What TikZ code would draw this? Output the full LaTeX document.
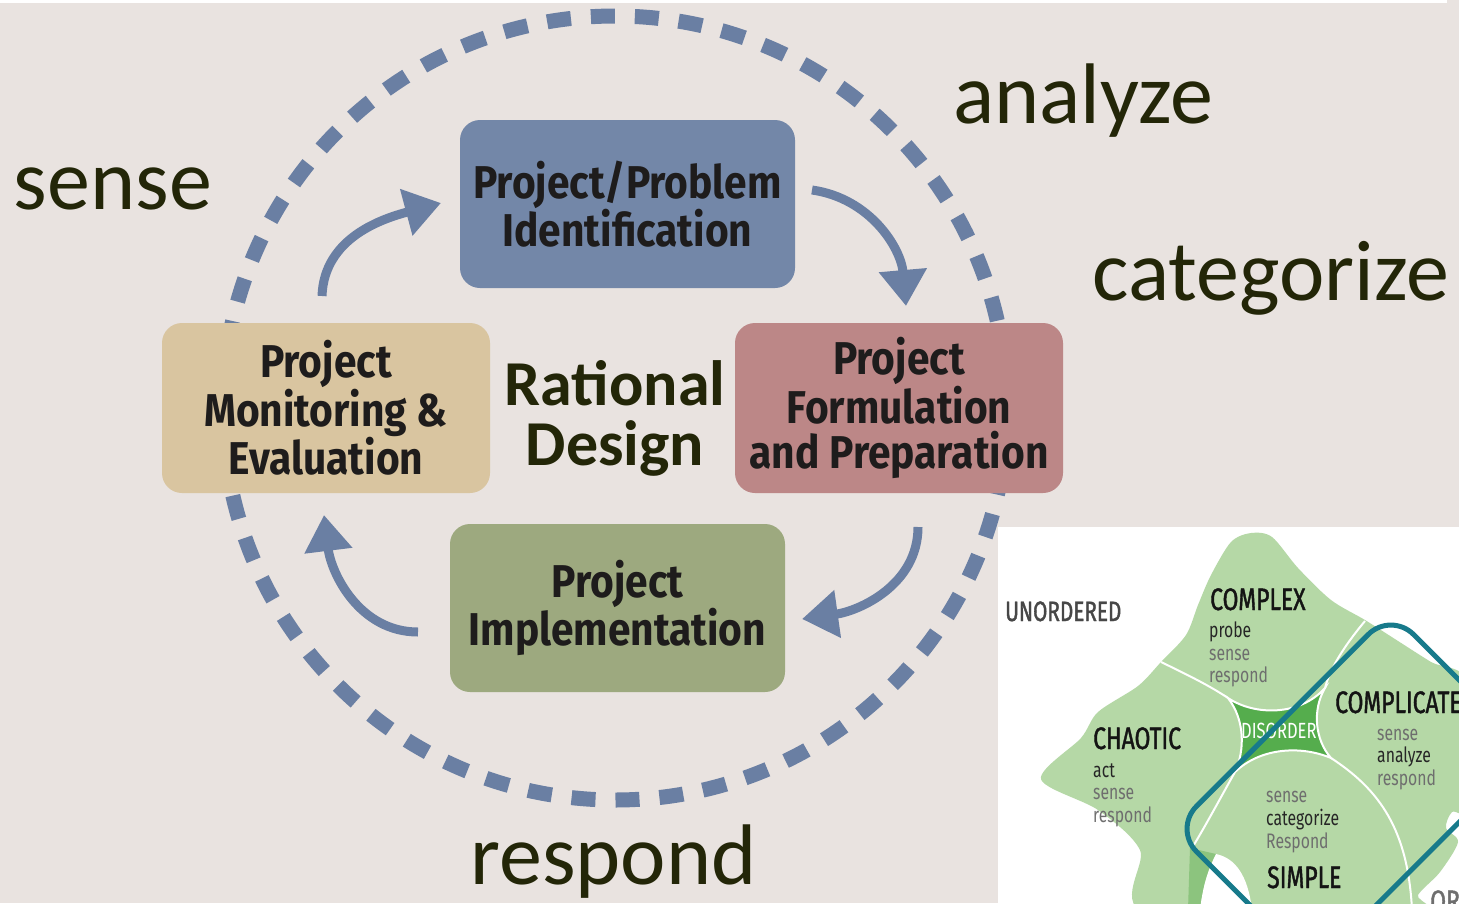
\documentclass[tikz,border=0pt]{standalone}
\usepackage{fontspec}
\usetikzlibrary{arrows.meta}
\setmainfont{Carlito}
\newfontfamily\stagefont[FakeStretch=0.885]{Fira Sans}
\newfontfamily\cynfont[FakeStretch=0.75]{Fira Sans}
\newfontfamily\cynheadfont[FakeStretch=0.74,FakeBold=1.3]{Fira Sans}

\definecolor{paper}{HTML}{E9E3E0}
\definecolor{loopblue}{HTML}{6A7FA3}
\definecolor{olive}{HTML}{232608}
\definecolor{identblue}{HTML}{7387A8}
\definecolor{formulrose}{HTML}{BC8787}
\definecolor{monevaltan}{HTML}{D9C5A0}
\definecolor{implgreen}{HTML}{9DA97F}
\definecolor{stageink}{HTML}{1E1C1C}
\definecolor{cynlight}{HTML}{B5D8A6}
\definecolor{cyndark}{HTML}{55AD4D}
\definecolor{cynfold}{HTML}{8CC47E}
\definecolor{cynteal}{HTML}{177A8B}
\definecolor{cyngray}{HTML}{6E6E6E}

\tikzset{
stage/.style={ % the four project phases
  rounded corners=20pt,
  minimum width=335pt, minimum height=168pt,
  align=center, text=stageink, inner sep=0pt,
  font=\stagefont\bfseries\fontsize{46}{45}\selectfont},
cyclearrow/.style={ % bent arrows from phase to phase
  draw=loopblue, line width=9pt,
  -{Triangle[width=46pt,length=36pt]}},
verb/.style={ % big words round the loop
  text=olive, anchor=base, inner sep=0pt,
  font=\fontsize{86}{86}\selectfont},
cyntitle/.style={anchor=base west, inner sep=0pt, text=black!92,
  font=\cynheadfont\fontsize{31}{31}\selectfont},
cynword/.style={anchor=base west, inner sep=0pt, text=black!85,
  font=\cynfont\fontsize{21}{21}\selectfont},
cynsoft/.style={cynword, text=cyngray},
cynline/.style={draw=white, line width=2pt}
}

\begin{document}
\begin{tikzpicture}[x=1pt,y=1pt]
\useasboundingbox (0,0) rectangle (1459,-903);
\fill[paper] (0,0) rectangle (1459,-903);
\fill[white] (0,0) rectangle (1447,-3);

% dashed loop behind the phases
\draw[loopblue, line width=15pt, dash pattern=on 24pt off 20pt] (615,-408) circle[radius=392pt];

% phases
\node[stage, fill=identblue] (ident) at (627.5,-204) {Project/Problem\\Identification};
\node[stage, fill=formulrose, minimum width=328pt, minimum height=170pt] (formul) at (899,-408) {Project\\Formulation\\and Preparation};
\node[stage, fill=monevaltan, minimum width=328pt, minimum height=170pt] (moneval) at (326,-408) {Project\\Monitoring \&\\Evaluation};
\node[stage, fill=implgreen] (impl) at (617.5,-608) {Project\\Implementation};

\node[text=olive, align=center, font=\bfseries\fontsize{64}{60}\selectfont] (rational) at (615,-418) {Rational\\Design};

% arrows between phases
\coordinate (a1s) at (322,-296);
\coordinate (a1e) at (441,-203);
\coordinate (a2s) at (812,-190);
\coordinate (a2e) at (906,-306);
\coordinate (a3s) at (918,-527);
\coordinate (a3e) at (802,-619);
\coordinate (a4s) at (418,-632);
\coordinate (a4e) at (324,-515);
\draw[cyclearrow] (a1s) to[out=88,in=195] (a1e);
\draw[cyclearrow] (a2s) to[out=-8,in=95] (a2e);
\draw[cyclearrow] (a3s) to[out=-90,in=8] (a3e);
\draw[cyclearrow] (a4s) to[out=180,in=-83] (a4e);

% verbs
\node[verb] (sense) at (113,-209) {sense};
\node[verb] (analyze) at (1083.5,-123) {analyze};
\node[verb] (categorize) at (1271,-300) {categorize};
\node[verb] (respond) at (613.5,-884) {respond};

% Cynefin panel
\begin{scope}
\clip (998,-527) rectangle (1459,-903);
\fill[white] (998,-527) rectangle (1459,-903);
\fill[cynlight] plot[smooth cycle, tension=0.5] coordinates {
  (1231,-542) (1251,-533) (1272,-537) (1298,-568) (1331,-600) (1365,-620)
  (1398,-641) (1431,-662) (1470,-685) (1470,-805) (1452,-812) (1446,-828)
  (1458,-842) (1440,-872) (1418,-895) (1415,-915) (1150,-915) (1140,-850)
  (1098,-810) (1041,-779) (1081,-738) (1098,-712) (1138,-686) (1161,-662)
  (1186,-635) (1198,-605) (1211,-575)};
\fill[cynfold] (1190,-848) -- (1216,-854) .. controls (1208,-870) and (1203,-885) .. (1200,-910) -- (1188,-910) -- cycle;
\fill[white] (1216,-854) .. controls (1235,-858) and (1248,-875) .. (1252,-910) -- (1200,-910) .. controls (1203,-885) and (1208,-870) .. (1216,-854) -- cycle;
\draw[cynline] (1161,-662) .. controls (1190,-676) and (1210,-686) .. (1228,-698);
\draw[cynline] (1365,-621) .. controls (1345,-645) and (1330,-668) .. (1325,-688);
\draw[cynline] (1331,-758) .. controls (1380,-790) and (1408,-830) .. (1412,-910);
\draw[cynline] (1235,-772) .. controls (1222,-795) and (1206,-825) .. (1192,-848);
\fill[cyndark, cynline] (1228,-698) .. controls (1255,-716) and (1300,-716) .. (1325,-688)
  .. controls (1312,-710) and (1315,-740) .. (1331,-758)
  .. controls (1300,-745) and (1260,-748) .. (1235,-772)
  .. controls (1245,-750) and (1245,-720) .. (1228,-698) -- cycle;

\node[cyntitle, text=black!72, font=\cynheadfont\fontsize{28}{28}\selectfont] (unordered) at (1005,-621) {UNORDERED};
\node[cyntitle] (complex) at (1210,-610) {COMPLEX};
\node[cynword] (cxa) at (1209,-637) {probe};
\node[cynsoft] (cxb) at (1209,-660) {sense};
\node[cynsoft] (cxc) at (1209,-682) {respond};
\node[cyntitle] (complicated) at (1335,-713) {COMPLICATED};
\node[cynsoft] (cda) at (1377,-740) {sense};
\node[cynword] (cdb) at (1377,-762) {analyze};
\node[cynsoft] (cdc) at (1377,-785) {respond};
\node[cyntitle] (chaotic) at (1093,-749) {CHAOTIC};
\node[cynword] (cha) at (1093,-777) {act};
\node[cynsoft] (chb) at (1093,-799) {sense};
\node[cynsoft] (chc) at (1093,-822) {respond};
\node[cynword, text=white, font=\cynfont\fontsize{22}{22}\selectfont] (disorder) at (1241,-738) {DISORDER};
\node[cynsoft] (spa) at (1266,-802) {sense};
\node[cynword] (spb) at (1266,-825) {categorize};
\node[cynsoft] (spc) at (1266,-848) {Respond};
\node[cyntitle] (simple) at (1267,-888) {SIMPLE};
\node[cyntitle, text=cyngray] (ordered) at (1430,-912) {ORDERED};

% box round the ordered side
\draw[cynteal, line width=5pt, rounded corners=32pt, rotate around={45:(1352,-790)}]
  (1198.5,-888.5) rectangle (1505.5,-691.5);
\end{scope}
\end{tikzpicture}
\end{document}
